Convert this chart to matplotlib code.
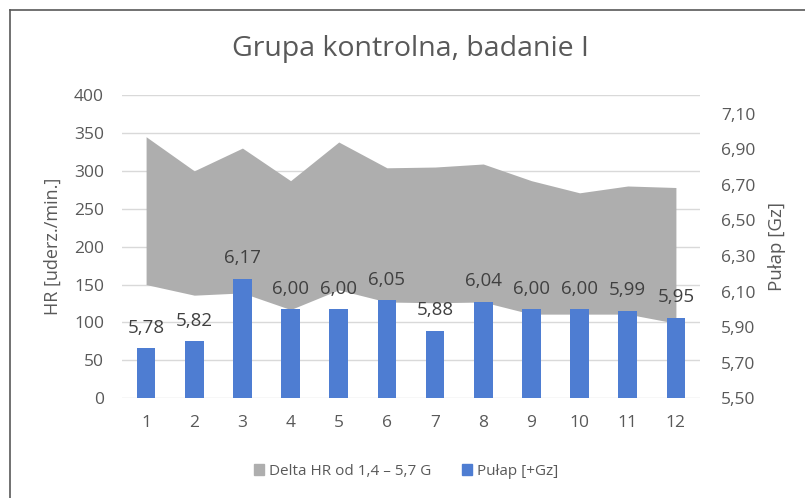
import matplotlib
matplotlib.use('Agg')
import matplotlib.pyplot as plt
from matplotlib.lines import Line2D
from matplotlib.patches import Patch
import numpy as np

plt.rcParams['font.family'] = ['Open Sans', 'DejaVu Sans']

# data
categories = [1, 2, 3, 4, 5, 6, 7, 8, 9, 10, 11, 12]
hr_low = [150, 136, 139, 117, 143, 127, 126, 127, 111, 111, 111, 99]
hr_high = [345, 300, 330, 287, 338, 304, 305, 309, 287, 271, 280, 278]
pulap = [5.78, 5.82, 6.17, 6.00, 6.00, 6.05, 5.88, 6.04, 6.00, 6.00, 5.99, 5.95]

left_ticks = [0, 50, 100, 150, 200, 250, 300, 350, 400]
right_ticks = [5.5, 5.7, 5.9, 6.1, 6.3, 6.5, 6.7, 6.9, 7.1]

txt = '#595959'
grey = '#AEAEAE'
blue = '#4E7DD2'

fig = plt.figure(figsize=(8.05, 4.98), dpi=100)
ax = fig.add_axes([122/805, 1 - 398.3/498, 578/805, 303.3/498])
ax2 = ax.twinx()

x = np.array(categories)
ax.fill_between(x, hr_low, hr_high, color=grey, lw=0, zorder=2)
ax.set_ylim(0, 400)
ax.set_xlim(0.5, 12.5)
ax.set_yticks(left_ticks)
ax.set_xticks(x)
ax.set_xticklabels([str(c) for c in categories])
ax.grid(axis='y', color='#D9D9D9', lw=1, zorder=0)
ax.set_axisbelow(True)

bars = ax2.bar(x, pulap, width=0.39, bottom=0, color=blue, zorder=3)
ax2.set_ylim(5.5, 7.205)
ax2.set_yticks(right_ticks)
ax2.set_yticklabels(['{:.2f}'.format(v).replace('.', ',') for v in right_ticks])
for xi, v in zip(x, pulap):
    ax2.annotate('{:.2f}'.format(v).replace('.', ','), (xi, v), xytext=(0, 15),
                 textcoords='offset points', ha='center', va='center',
                 fontsize=13.5, color='#404040', zorder=4)

for a in (ax, ax2):
    for s in a.spines.values():
        s.set_visible(False)
    a.tick_params(length=0, labelsize=12.5, colors=txt)
ax.tick_params(axis='x', pad=12)
ax.tick_params(axis='y', pad=13)
ax2.tick_params(axis='y', pad=15)

ax.set_ylabel('HR [uderz./min.]', fontsize=13, color=txt)
ax2.set_ylabel('Pułap [Gz]', fontsize=13.5, color=txt)
ax.yaxis.set_label_coords(-0.105, 0.5)
ax2.yaxis.set_label_coords(1.118, 0.5)

fig.text(0.51, 1 - 49/498, 'Grupa kontrolna, badanie I', ha='center', va='center',
         fontsize=20.5, color=txt)

handles = [Patch(color=grey), Patch(color=blue)]
fig.legend(handles, ['Delta HR od 1,4 – 5,7 G', 'Pułap [+Gz]'], loc='center',
           bbox_to_anchor=(406/805, 1 - 471/498), ncol=2, frameon=False,
           fontsize=11, labelcolor=txt, handlelength=0.7, handleheight=0.7,
           handletextpad=0.3, columnspacing=2.0)

# chart frame (only top and left edges visible in the crop)
fig.add_artist(Line2D([10/805, 10/805], [0, 1 - 10/498], transform=fig.transFigure,
                      color='#595959', lw=1.2))
fig.add_artist(Line2D([10/805, 1], [1 - 10/498, 1 - 10/498], transform=fig.transFigure,
                      color='#595959', lw=1.2))

fig.savefig('out.png', dpi=100)
